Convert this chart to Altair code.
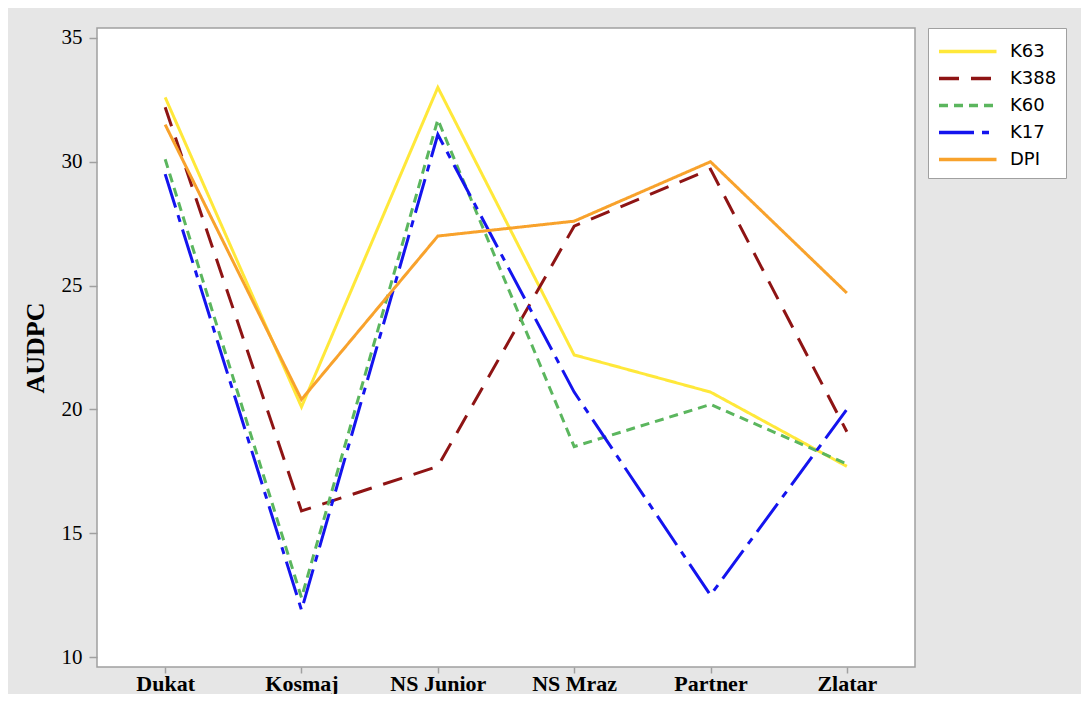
import altair as alt
import pandas as pd

cultivars = ["Dukat", "Kosmaj", "NS Junior", "NS Mraz", "Partner", "Zlatar"]
series_names = ["K63", "K388", "K60", "K17", "DPI"]
k63 = [32.6, 20.1, 33.0, 22.2, 20.7, 17.7]
k388 = [32.2, 15.9, 17.7, 27.4, 29.7, 19.1]
k60 = [30.1, 12.4, 31.7, 18.5, 20.2, 17.8]
k17 = [29.5, 11.9, 31.1, 20.7, 12.5, 20.0]
dpi = [31.5, 20.4, 27.0, 27.6, 30.0, 24.7]
y_ticks = [10, 15, 20, 25, 30, 35]

colors = ["#FFE83A", "#8E1414", "#5BB65E", "#1414EE", "#F8A22C"]
dashes = [[1, 0], [20, 12], [9, 6], [35, 8, 7, 8], [1, 0]]

rows = []
for name, vals in zip(series_names, [k63, k388, k60, k17, dpi]):
    for c, v in zip(cultivars, vals):
        rows.append({"cultivar": c, "series": name, "value": v})
df = pd.DataFrame(rows)

pad_label = "\u00a0" * 24

chart = alt.Chart(df).mark_line(strokeWidth=3).encode(
    x=alt.X("cultivar:N", sort=cultivars,
            scale=alt.Scale(type="point", padding=0.5),
            axis=alt.Axis(title=None, labelAngle=0, labelFont="Liberation Serif",
                          labelFontSize=22, labelFontWeight="bold", labelColor="black",
                          tickSize=6, tickColor="#A0A0A0", tickWidth=1.5,
                          labelPadding=0, domain=False, grid=False)),
    y=alt.Y("value:Q", scale=alt.Scale(domain=[9.6, 35.4], nice=False, zero=False),
            axis=alt.Axis(title="AUDPC", values=y_ticks, labelFont="Liberation Serif",
                          labelFontSize=21, labelColor="black", tickSize=8,
                          tickColor="#A0A0A0", tickWidth=1.5, labelPadding=7,
                          domain=False, grid=False,
                          titleFont="Liberation Serif", titleFontSize=26,
                          titleFontWeight="bold", titleColor="black",
                          titleAngle=270, titleAlign="center",
                          titleBaseline="alphabetic", titleX=-54, titleY=319.5)),
    color=alt.Color("series:N", sort=series_names,
                    scale=alt.Scale(domain=series_names, range=colors),
                    legend=alt.Legend(title=None, orient="none", legendX=831, legendY=0,
                                      symbolType="M-1,0H3.6", symbolSize=625,
                                      symbolStrokeWidth=3.5, labelFont="DejaVu Sans",
                                      labelFontSize=18, labelColor="black",
                                      labelOffset=44, padding=9, rowPadding=3,
                                      labelLimit=400,
                                      strokeColor="#A0A0A0", fillColor="white",
                                      labelExpr="datum.label + '" + pad_label + "'")),
    strokeDash=alt.StrokeDash("series:N", sort=series_names,
                              scale=alt.Scale(domain=series_names, range=dashes)),
).properties(
    width=818, height=639,
    background="#E6E6E6",
    padding={"left": 89, "top": 20, "right": 166, "bottom": 27},
    autosize=alt.AutoSizeParams(type="none"),
).configure_view(
    stroke="#A0A0A0", strokeWidth=1.5, fill="white"
)

chart.save("out.html", embed_options={"renderer": "svg", "actions": False})
